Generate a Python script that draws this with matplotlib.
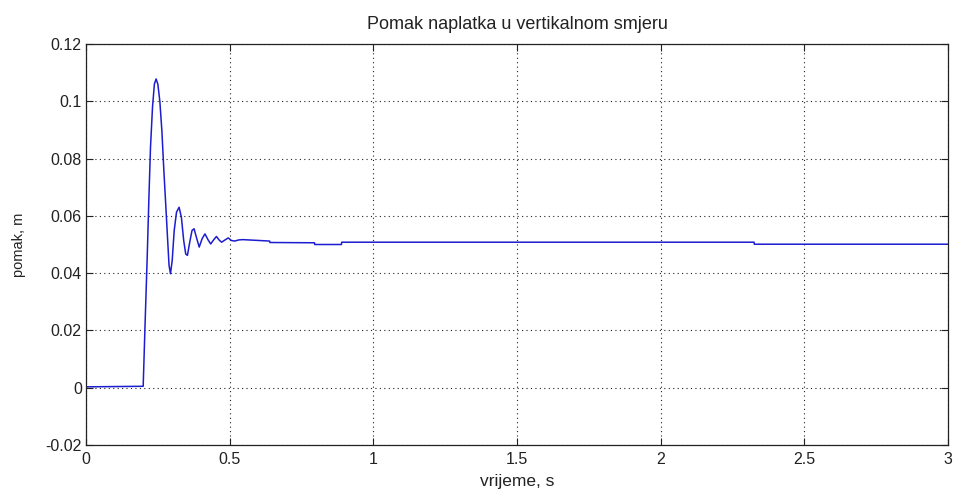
import matplotlib
matplotlib.use('Agg')
import matplotlib.pyplot as plt

# vrijeme (s) i pomak naplatka (m), ocitano s grafa
t = [0.0, 0.10, 0.199, 0.206, 0.213, 0.219, 0.2245, 0.2315, 0.238, 0.244,
     0.250, 0.257, 0.264, 0.271, 0.278, 0.285, 0.289, 0.294, 0.300, 0.307,
     0.315, 0.324, 0.332, 0.340, 0.347, 0.353, 0.361, 0.369, 0.376, 0.384,
     0.394, 0.404, 0.414, 0.425, 0.434, 0.444, 0.454, 0.463, 0.472, 0.484,
     0.495, 0.506, 0.517, 0.532, 0.546, 0.639, 0.640, 0.795, 0.796, 0.889,
     0.890, 2.325, 2.326, 3.0]
pomak = [0.0003, 0.0004, 0.0005, 0.0235, 0.0456, 0.0665, 0.084, 0.098, 0.106, 0.1078,
         0.106, 0.100, 0.0898, 0.0758, 0.063, 0.050, 0.0427, 0.0398, 0.0444, 0.0549,
         0.0613, 0.063, 0.0595, 0.0514, 0.0467, 0.0462, 0.0508, 0.0549, 0.0555, 0.0526,
         0.0491, 0.052, 0.0537, 0.0516, 0.0502, 0.0516, 0.0528, 0.0516, 0.0508, 0.0516,
         0.0523, 0.0514, 0.0512, 0.0516, 0.0517, 0.0512, 0.0507, 0.0506, 0.0500, 0.0500,
         0.0508, 0.0508, 0.0501, 0.0501]

x_ticks = [0, 0.5, 1, 1.5, 2, 2.5, 3]
x_labels = ['0', '0.5', '1', '1.5', '2', '2.5', '3']
y_ticks = [-0.02, 0, 0.02, 0.04, 0.06, 0.08, 0.1, 0.12]
y_labels = ['-0.02', '0', '0.02', '0.04', '0.06', '0.08', '0.1', '0.12']

plt.rcParams['font.family'] = ['Liberation Sans', 'DejaVu Sans']

fig = plt.figure(figsize=(9.57, 4.94), dpi=100)
ax = fig.add_axes([86 / 957, 49 / 494, 862 / 957, 401 / 494])

ax.plot(t, pomak, color='#1c1cd0', linewidth=1.1)

ax.set_xlim(0, 3)
ax.set_ylim(-0.02, 0.12)
ax.set_xticks(x_ticks)
ax.set_xticklabels(x_labels)
ax.set_yticks(y_ticks)
ax.set_yticklabels(y_labels)

ax.tick_params(direction='in', length=5, width=0.8, labelsize=11.5, pad=3,
               top=True, right=True, colors='#222222', labelcolor='#222222')
ax.tick_params(axis='x', pad=5)
ax.grid(True, linestyle=(0, (1, 3)), color='#222222', linewidth=0.8)
for s in ax.spines.values():
    s.set_color('#222222')
    s.set_linewidth(0.9)

ax.set_title('Pomak naplatka u vertikalnom smjeru', fontsize=13, pad=11, color='#222222')
ax.set_xlabel('vrijeme, s', fontsize=12.5, labelpad=5, color='#222222')
ax.set_ylabel('pomak, m', fontsize=10.5, labelpad=14, color='#222222')

fig.savefig('out.png', dpi=100)
